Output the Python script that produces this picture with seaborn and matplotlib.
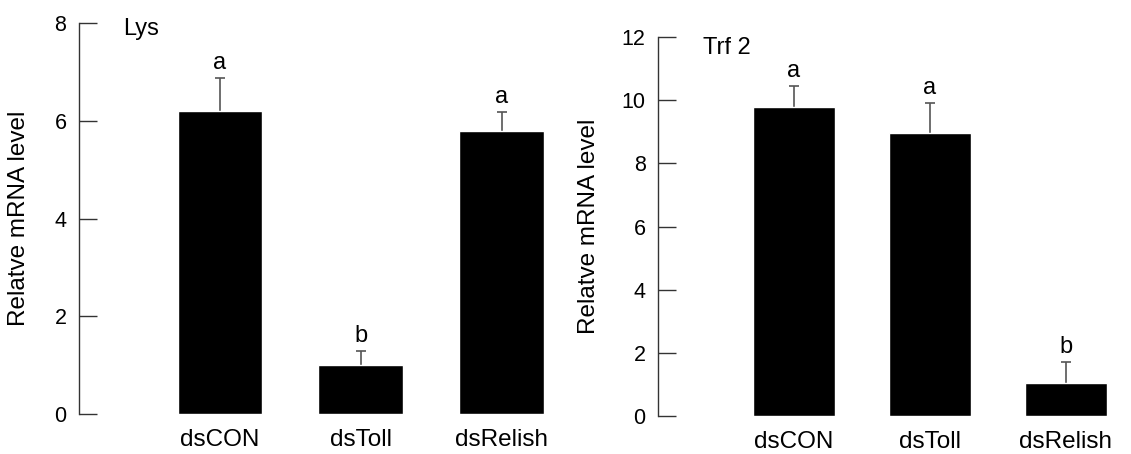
import numpy as np
import pandas as pd

import matplotlib
matplotlib.use("Agg")
import matplotlib.pyplot as plt
import seaborn as sns

# data
groups = ["dsCON", "dsToll", "dsRelish"]

lys_mean = [6.2, 1.0, 5.8]
lys_sd = [0.67, 0.29, 0.38]
lys_letters = ["a", "b", "a"]

trf_mean = [9.78, 8.95, 1.03]
trf_sd = [0.67, 0.95, 0.68]
trf_letters = ["a", "a", "b"]

sns.set_style("white")
plt.rcParams["font.family"] = ["Liberation Sans", "DejaVu Sans"]
plt.rcParams["text.color"] = "black"
plt.rcParams["axes.labelcolor"] = "black"
plt.rcParams["xtick.color"] = "black"
plt.rcParams["ytick.color"] = "black"

fig = plt.figure(figsize=(11.31, 4.54), dpi=100)

ax1 = fig.add_axes([0.0698, 0.0881, 0.4359, 0.8612])
ax2 = fig.add_axes([0.5818, 0.0837, 0.4147, 0.8348])


def draw_panel(ax, means, sds, letters, title, ymax, step, xmax, label_x, title_xy):

    df = pd.DataFrame({"group": groups, "value": means})

    sns.barplot(
        data=df,
        x="group",
        y="value",
        color="black",
        width=0.6,
        saturation=1,
        errorbar=None,
        zorder=2,
        ax=ax
    )

    # error bars sit behind the bars, so only the upper half shows
    ax.errorbar(
        range(len(groups)),
        means,
        yerr=sds,
        fmt="none",
        ecolor="#555555",
        elinewidth=1.2,
        capsize=3.5,
        capthick=1.2,
        zorder=1
    )

    for i, (m, s, t) in enumerate(zip(means, sds, letters)):
        ax.annotate(
            t,
            xy=(i, m + s),
            xytext=(0, 3),
            textcoords="offset points",
            ha="center",
            va="bottom",
            fontsize=17
        )

    ax.set_xlim(-1.0, xmax)
    ax.set_ylim(0, ymax)
    ax.set_yticks(np.arange(0, ymax + 0.1, step))

    sns.despine(ax=ax, top=True, right=True, bottom=True)
    ax.spines["left"].set_color("#333333")
    ax.spines["left"].set_linewidth(1.0)

    ax.tick_params(axis="y", left=True, direction="in", length=13, width=1.0,
                   color="#333333", labelcolor="black", pad=9, labelsize=15.5)
    ax.tick_params(axis="x", bottom=False, length=0, pad=11,
                   labelcolor="black", labelsize=17.5)

    ax.set_xlabel("")
    ax.set_ylabel("Relatve mRNA level", fontsize=17.5, color="black")
    ax.yaxis.set_label_coords(label_x, 0.5)

    ax.text(title_xy[0], title_xy[1], title, transform=ax.transAxes,
            ha="left", va="center", fontsize=17, color="black")


draw_panel(ax1, lys_mean, lys_sd, lys_letters, "Lys", 8, 2, 2.5,
           -0.099, (0.089, 0.985))
draw_panel(ax2, trf_mean, trf_sd, trf_letters, "Trf 2", 12, 2, 2.45,
           -0.124, (0.096, 0.972))

plt.savefig("out.png", dpi=100)
